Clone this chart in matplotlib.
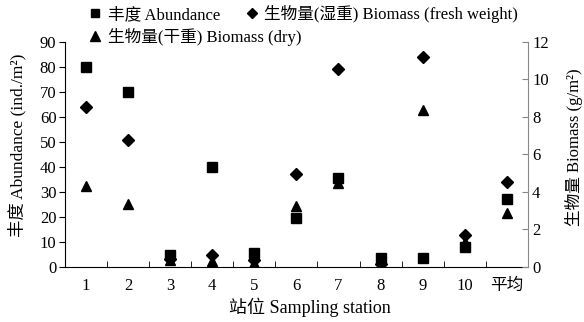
import matplotlib
matplotlib.use("Agg")
import matplotlib.pyplot as plt
from matplotlib.lines import Line2D
import numpy as np

plt.rcParams['font.family'] = ['Liberation Serif', 'Noto Sans CJK SC']
plt.rcParams['font.size'] = 12

# station labels and values
stations = ['1', '2', '3', '4', '5', '6', '7', '8', '9', '10', '平均']
abundance = [80, 70, 4.7, 40, 5.7, 19.5, 35.5, 3.5, 3.5, 8.1, 27.2]
biomass_fresh = [8.55, 6.75, 0.4, 0.62, 0.37, 4.94, 10.55, 0.15, 11.2, 1.7, 4.52]
biomass_dry = [4.32, 3.36, 0.36, 0.34, 0.2, 3.25, 4.46, 0.1, 8.37, 1.35, 2.86]

x = np.arange(1, len(stations) + 1)

fig = plt.figure(figsize=(5.84, 3.22), dpi=100)
ax = fig.add_axes([0.111, 0.171, 0.793, 0.699])
ax2 = ax.twinx()

ax.plot(x, abundance, linestyle='none', marker='s', color='black', markersize=6.5)
ax2.plot(x, biomass_fresh, linestyle='none', marker='D', color='black', markersize=6.5)
ax2.plot(x, biomass_dry, linestyle='none', marker='^', color='black', markersize=7.5)

ax.set_xlim(0.5, len(stations) + 0.5)
ax.set_ylim(0, 90)
ax2.set_ylim(0, 12)
ax.set_yticks(np.arange(0, 91, 10))
ax2.set_yticks(np.arange(0, 13, 2))

ax.set_xticks(x)
ax.set_xticklabels(stations)
ax.set_xticks(np.arange(1.5, len(stations), 1), minor=True)
ax.tick_params(axis='x', which='major', length=0, pad=8, labelsize=12)
ax.tick_params(axis='x', which='minor', direction='in', length=4)
ax.tick_params(axis='y', direction='out', length=4, pad=2, labelsize=12)
ax2.tick_params(axis='y', direction='in', length=4, pad=3, color='#888888', labelsize=12)

for a in (ax, ax2):
    a.spines['top'].set_visible(False)
ax.spines['right'].set_visible(False)
ax2.spines['left'].set_visible(False)
ax2.spines['bottom'].set_visible(False)
ax2.spines['right'].set_color('#888888')

ax.set_xlabel('站位 Sampling station', fontsize=13)
ax.set_ylabel('丰度 Abundance (ind./m²)', fontsize=12.5)
ax2.set_ylabel('生物量 Biomass (g/m²)', fontsize=12)
ax.xaxis.set_label_coords(0.529, -0.135)
ax.yaxis.set_label_coords(-0.082, 0.542)
ax2.yaxis.set_label_coords(1.079, 0.533)

sq = Line2D([], [], linestyle='none', marker='s', color='black', markersize=5.5)
tri = Line2D([], [], linestyle='none', marker='^', color='black', markersize=6.5)
dia = Line2D([], [], linestyle='none', marker='D', color='black', markersize=5.5)

leg1 = fig.legend([sq, dia], ['丰度 Abundance', '生物量(湿重) Biomass (fresh weight)'],
                  ncol=2, frameon=False, loc='center left', bbox_to_anchor=(0.152, 0.957),
                  handlelength=0.8, handletextpad=0.35, columnspacing=1.5,
                  borderpad=0, borderaxespad=0, fontsize=12)
leg2 = fig.legend([tri], ['生物量(干重) Biomass (dry)'],
                  frameon=False, loc='center left', bbox_to_anchor=(0.152, 0.885),
                  handlelength=0.8, handletextpad=0.35,
                  borderpad=0, borderaxespad=0, fontsize=12)

fig.savefig('out.png', dpi=100)
